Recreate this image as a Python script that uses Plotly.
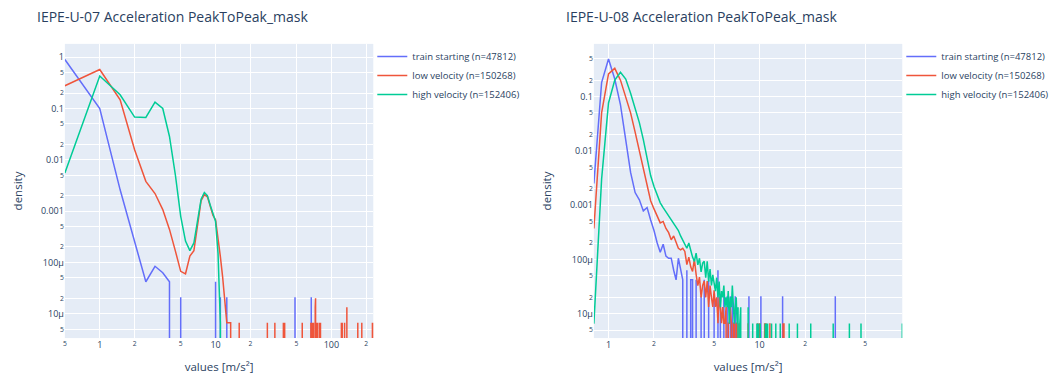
import math
import plotly.graph_objects as go

# ---------------- IEPE-U-07 (bin width 0.5 m/s²) ----------------
u07_start_x = [0.5, 1.0, 1.5, 2.0, 2.5, 3.0, 3.5, 4.0, 4.5,
               5.0, 5.5, 9.5, 10.0, 10.5, 11.0, 11.5, 12.0, 12.5, 13.0,
               48.0, 48.5, 49.0, 66.5, 67.0, 67.5]
u07_start_y = [0.9, 0.1, 0.0026, 0.00027, 4.2e-5, 8.4e-5, 6.3e-5, 4.2e-5, 0,
               2.1e-5, 0, 0, 4.2e-5, 0, 2.1e-5, 0, 0, 2.1e-5, 0,
               0, 2.1e-5, 0, 0, 2.1e-5, 0]

u07_low_x = [0.5, 1.0, 1.5, 2.0, 2.5, 3.0, 3.5, 4.0, 4.5, 5.0, 5.5, 6.0, 6.5, 7.0,
             7.5, 8.0, 8.5, 9.0, 9.5, 10.0, 10.5, 11.0, 11.5, 12.0, 12.5, 13.0,
             13.5, 14.0,
             15.5, 16.0, 16.5, 27.5, 28.0, 28.5, 32.0, 32.5, 33.0,
             38.0, 38.5, 39.0, 39.5, 40.0, 55.5, 56.0, 56.5,
             66.0, 66.5, 67.0, 68.0, 68.5, 70.0, 70.5, 72.0, 72.5, 73.0, 73.5,
             74.5, 75.0, 76.0, 76.5, 79.0, 79.5, 80.5, 81.0,
             121.5, 122.0, 122.5, 124.0, 124.5, 130.0, 130.5, 135.5, 136.0, 136.5,
             168.5, 169.0, 169.5, 182.5, 183.0, 183.5, 225.5, 226.0, 226.5, 229.5]
u07_low_y = [0.277, 0.575, 0.148, 0.0157, 0.0038, 0.0022, 0.00107, 0.00044, 0.000166,
             6.7e-5, 6.0e-5, 0.000133, 0.00017, 0.00055, 0.0016, 0.0021, 0.0019,
             0.00124, 0.00082, 0.00068, 0.00025, 0.00013, 5.3e-5, 2.0e-5,
             6.65e-6, 6.65e-6, 6.65e-6, 0,
             0, 6.65e-6, 0, 0, 6.65e-6, 0, 0, 6.65e-6, 0,
             0, 6.65e-6, 0, 6.65e-6, 0, 0, 6.65e-6, 0,
             0, 6.65e-6, 0, 6.65e-6, 0, 6.65e-6, 0, 0, 1.33e-5, 2.0e-5, 0,
             6.65e-6, 0, 6.65e-6, 0, 6.65e-6, 0, 6.65e-6, 0,
             0, 6.65e-6, 0, 6.65e-6, 0, 6.65e-6, 0, 0, 1.33e-5, 0,
             0, 6.65e-6, 0, 0, 6.65e-6, 0, 0, 6.65e-6, 0, 6.65e-6]

u07_high_x = [0.5, 1.0, 1.5, 2.0, 2.5, 3.0, 3.5, 4.0, 4.5, 5.0, 5.5, 6.0, 6.5, 7.0,
              7.5, 8.0, 8.5, 9.0, 9.5, 10.0, 10.5, 11.0, 11.5]
u07_high_y = [0.0055, 0.43, 0.185, 0.068, 0.067, 0.133, 0.1, 0.0285, 0.005, 0.00079,
              0.00026, 0.00017, 0.00024, 0.00065, 0.0017, 0.0023, 0.002, 0.0013,
              0.00085, 0.00063, 0.00015, 6.56e-6, 0]

# ---------------- IEPE-U-08 (bin width 0.1 m/s²) ----------------
u08_start_x = [0.8, 0.9, 1.0, 1.1, 1.2, 1.3, 1.4, 1.5, 1.6, 1.7, 1.8, 1.9, 2.0, 2.1,
               2.2, 2.3, 2.4, 2.5, 2.6, 2.7, 2.8, 2.9, 3.0, 3.1, 3.2,
               3.3, 3.4, 3.5, 3.6, 3.7, 3.8, 3.9, 4.0, 4.1, 4.2, 4.3, 4.4,
               4.5, 4.6, 4.7, 4.9, 5.0, 5.1, 5.2, 5.3, 5.4, 5.5, 5.6,
               5.7, 5.8, 5.9, 6.0, 6.1, 6.2, 6.3, 6.4, 6.5, 6.6, 6.7,
               6.8, 6.9, 7.0, 8.4, 8.5, 8.6, 10.1, 10.2, 10.3,
               14.1, 14.2, 14.3, 31.6, 31.7, 31.8]
u08_start_y = [0.0025, 0.18, 0.49, 0.21, 0.07, 0.016, 0.004, 0.0017, 0.00125, 0.00078,
               0.0009, 0.00053, 0.00034, 0.0002, 0.000135, 0.00019, 0.000115,
               0.000105, 0.000105, 6.3e-5, 4.2e-5, 0.000105, 6.3e-5, 4.2e-5, 0,
               6.3e-5, 0, 4.2e-5, 4.2e-5, 0, 4.2e-5, 0, 0, 2.1e-5, 0, 4.2e-5, 0,
               0, 4.2e-5, 0, 0, 2.1e-5, 0, 0, 6.3e-5, 0, 2.1e-5, 0,
               0, 2.1e-5, 0, 0, 2.1e-5, 0, 0, 2.1e-5, 0, 2.1e-5, 0,
               0, 2.1e-5, 0, 0, 2.1e-5, 0, 0, 2.1e-5, 0,
               0, 2.1e-5, 0, 0, 2.1e-5, 0]

u08_low_x = [0.8, 0.9, 1.0, 1.1, 1.2, 1.3, 1.4, 1.5, 1.6, 1.7, 1.8, 1.9, 2.0, 2.1,
             2.2, 2.3, 2.4, 2.5, 2.6, 2.7, 2.8, 2.9, 3.0, 3.1, 3.2, 3.3, 3.4, 3.5,
             3.6, 3.7, 3.8, 3.9, 4.0, 4.1, 4.2, 4.3, 4.4, 4.5, 4.6, 4.7, 4.8, 4.9,
             5.0, 5.1, 5.2, 5.3, 5.4, 5.5, 5.6, 5.7, 5.8, 5.9, 6.0, 6.1, 6.2, 6.3,
             6.4, 6.5, 6.6, 6.7, 6.8, 6.9, 7.0, 7.1, 7.2, 7.3, 7.4,
             8.3, 8.4, 8.5, 9.6, 9.7, 9.8, 9.9, 10.0, 10.1, 10.7, 10.8, 10.9,
             11.0, 11.1, 11.6, 11.7, 11.8, 14.2, 14.3, 14.4, 14.5, 14.6]
u08_low_y = [0.00037, 0.05, 0.26, 0.33, 0.2, 0.1, 0.05, 0.022, 0.01, 0.0045, 0.0021,
             0.0012, 0.00085, 0.00065, 0.00047, 0.0005, 0.00037, 0.00031, 0.00023,
             0.00027, 0.0002, 0.00016, 0.00015, 0.00016, 0.00014, 8.0e-5, 0.00011,
             7.3e-5, 6.0e-5, 0.0001, 5.3e-5, 3.3e-5, 4.7e-5, 2.0e-5, 3.3e-5, 4.0e-5,
             2.0e-5, 4.0e-5, 1.33e-5, 3.3e-5, 2.0e-5, 1.33e-5, 2.7e-5, 1.33e-5,
             2.0e-5, 6.65e-6, 2.0e-5, 1.33e-5, 6.65e-6, 1.33e-5, 6.65e-6, 6.65e-6,
             1.33e-5, 0, 6.65e-6, 6.65e-6, 1.33e-5, 6.65e-6, 0, 6.65e-6, 6.65e-6,
             0, 6.65e-6, 6.65e-6, 0, 6.65e-6, 0,
             0, 6.65e-6, 0, 0, 6.65e-6, 0, 0, 6.65e-6, 0, 0, 6.65e-6, 0,
             6.65e-6, 0, 0, 6.65e-6, 0, 0, 6.65e-6, 0, 6.65e-6, 0]

u08_high_x = [0.8, 0.9, 1.0, 1.1, 1.2, 1.3, 1.4, 1.5, 1.6, 1.7, 1.8, 1.9, 2.0, 2.1,
              2.2, 2.3, 2.4, 2.5, 2.6, 2.7, 2.8, 2.9, 3.0, 3.1, 3.2, 3.3, 3.4, 3.5,
              3.6, 3.7, 3.8, 3.9, 4.0, 4.1, 4.2, 4.3, 4.4, 4.5, 4.6, 4.7, 4.8, 4.9,
              5.0, 5.1, 5.2, 5.3, 5.4, 5.5, 5.6, 5.7, 5.8, 5.9, 6.0, 6.1, 6.2, 6.3,
              6.4, 6.5, 6.6, 6.7, 6.8, 6.9, 7.0, 7.1, 7.2, 7.3, 7.4, 7.5, 7.6,
              8.3, 8.4, 8.5, 8.9, 9.0, 9.1, 9.5, 9.6, 9.7, 9.8, 9.9, 10.0, 10.1,
              10.2, 10.8, 10.9, 11.0, 11.1, 11.2, 11.3, 11.4, 11.9, 12.0, 12.1,
              12.7, 12.8, 12.9, 13.6, 13.7, 13.8, 15.6, 15.7, 15.8, 17.7, 17.8,
              17.9, 21.7, 21.8, 21.9, 30.6, 30.7, 30.8, 39.2, 39.3, 39.4, 46.8,
              46.9, 47.0, 87.9, 88.0]
u08_high_y = [6.56e-6, 0.003, 0.076, 0.2, 0.28, 0.21, 0.115, 0.062, 0.033, 0.016,
              0.0072, 0.0035, 0.0022, 0.0016, 0.0011, 0.0009, 0.00075, 0.00065,
              0.00055, 0.00045, 0.0004, 0.00034, 0.00027, 0.00023, 0.00019, 0.00016,
              0.0002, 0.00014, 0.00011, 9.2e-5, 0.00013, 7.9e-5, 0.000105, 5.9e-5,
              8.5e-5, 9.2e-5, 4.6e-5, 9.2e-5, 3.9e-5, 6.6e-5, 3.3e-5, 5.2e-5,
              3.9e-5, 2.6e-5, 4.6e-5, 2.0e-5, 3.9e-5, 1.31e-5, 2.6e-5, 2.0e-5,
              3.3e-5, 1.31e-5, 2.0e-5, 1.31e-5, 2.6e-5, 6.56e-6, 2.0e-5, 1.31e-5,
              3.3e-5, 1.31e-5, 6.56e-6, 1.31e-5, 2.0e-5, 6.56e-6, 1.31e-5, 0,
              6.56e-6, 1.31e-5, 0,
              0, 1.31e-5, 0, 0, 6.56e-6, 0, 0, 6.56e-6, 0, 6.56e-6, 0, 0, 6.56e-6,
              0, 0, 6.56e-6, 0, 6.56e-6, 0, 6.56e-6, 0, 0, 6.56e-6, 0,
              0, 6.56e-6, 0, 0, 6.56e-6, 0, 0, 6.56e-6, 0, 0, 6.56e-6,
              0, 0, 6.56e-6, 0, 0, 6.56e-6, 0, 0, 6.56e-6, 0, 0,
              6.56e-6, 0, 0, 6.56e-6]

series_names = ["train starting (n=47812)", "low velocity (n=150268)",
                "high velocity (n=152406)"]
series_colors = ["#636efa", "#EF553B", "#00cc96"]
titles = ["IEPE-U-07 Acceleration PeakToPeak_mask",
          "IEPE-U-08 Acceleration PeakToPeak_mask"]

W, H = 1055, 374

fig = go.Figure()

panels = [
    ("x", "y", "legend", [(u07_start_x, u07_start_y), (u07_low_x, u07_low_y),
                          (u07_high_x, u07_high_y)]),
    ("x2", "y2", "legend2", [(u08_start_x, u08_start_y), (u08_low_x, u08_low_y),
                             (u08_high_x, u08_high_y)]),
]
for xa, ya, lg, data in panels:
    for (xs, ys), name, color in zip(data, series_names, series_colors):
        fig.add_trace(go.Scatter(
            x=xs, y=ys, mode="lines", name=name,
            line=dict(color=color, width=1.5),
            xaxis=xa, yaxis=ya, legend=lg,
        ))

ydom = [1 - 339 / H, 1 - 44 / H]
xdom1 = [63 / W, 372 / W]
xdom2 = [593 / W, 902 / W]


def xaxis(dom, rng, anchor):
    return dict(type="log", domain=dom, range=rng, anchor=anchor, dtick="D2",
                tickfont=dict(size=9),
                title=dict(text="values [m/s²]", font=dict(size=11.5)))


def yaxis(rng, anchor):
    return dict(type="log", domain=ydom, range=rng, anchor=anchor, dtick="D2",
                tickfont=dict(size=9),
                title=dict(text="density", font=dict(size=11.5)))


fig.update_layout(
    width=W, height=H,
    margin=dict(l=0, r=0, t=0, b=0),
    font=dict(family='"Open Sans", verdana, arial, sans-serif'),
    xaxis=xaxis(xdom1, [math.log10(0.5), math.log10(230)], "y"),
    yaxis=yaxis([-5.475, 0.259], "x"),
    xaxis2=xaxis(xdom2, [math.log10(0.8), math.log10(88)], "y2"),
    yaxis2=yaxis([-5.45, -0.031], "x2"),
    legend=dict(x=371 / W, y=1 - 42 / H, xanchor="left", yanchor="top",
                font=dict(size=9.5), bgcolor="rgba(0,0,0,0)"),
    legend2=dict(x=901 / W, y=1 - 42 / H, xanchor="left", yanchor="top",
                 font=dict(size=9.5), bgcolor="rgba(0,0,0,0)"),
    showlegend=True,
)

for tx, title in zip([33 / W, 563 / W], titles):
    fig.add_annotation(text=title, x=tx, y=1 - 17 / H, xref="paper", yref="paper",
                       xanchor="left", yanchor="middle", showarrow=False,
                       font=dict(size=14, color="#2a3f5f"))

fig.write_html("out.html")
